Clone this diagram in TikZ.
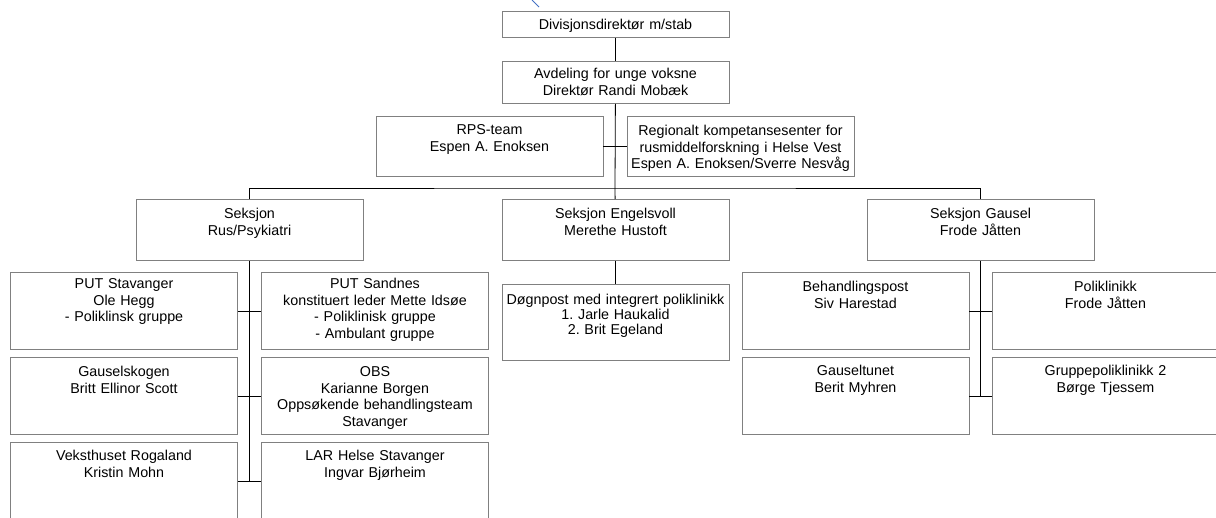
\documentclass[tikz,border=0pt]{standalone}
\usepackage{fontspec}
\setmainfont{Liberation Sans}
\frenchspacing
\definecolor{boxline}{RGB}{128,128,128}
\definecolor{markblue}{RGB}{68,114,196}
\begin{document}
\begin{tikzpicture}[x=1pt,y=-1pt,
  unit/.style 2 args={draw=boxline,line width=0.9pt,rectangle,anchor=north,inner sep=0pt,
    align=center,text width=227pt,text height=#1,text depth=#2,
    font=\fontsize{14.3}{16.7}\selectfont},
  link/.style={draw=black,line width=0.8pt}]
\clip (0,0) rectangle (1216,517);
\draw[markblue,line width=1pt] (532,0) -- (539,7);
% top of the chart
\node[unit={18pt}{8pt}] (div) at (615.5,11) {Divisjonsdirektør m/stab};
\node[unit={17pt}{25pt}] (avd) at (615.5,61) {Avdeling for unge voksne\\Direktør Randi Mobæk};
\node[unit={18pt}{42pt}] (rps) at (489.5,116) {RPS-team\\Espen A. Enoksen};
\node[unit={19pt}{41pt}] (reg) at (740.5,116) {Regionalt kompetansesenter for\\rusmiddelforskning i Helse Vest\\Espen A. Enoksen/Sverre Nesvåg};
% sections
\node[unit={19pt}{42pt}] (rus) at (249.5,199) {Seksjon\\Rus/Psykiatri};
\node[unit={19pt}{42pt}] (engel) at (615.5,199) {Seksjon Engelsvoll\\Merethe Hustoft};
\node[unit={19pt}{42pt}] (gausel) at (980.5,199) {Seksjon Gausel\\Frode Jåtten};
% Rus/Psykiatri
\node[unit={16pt}{61pt}] (putstav) at (124,272) {PUT Stavanger\\Ole Hegg\\- Poliklinsk gruppe};
\node[unit={16pt}{61pt}] (putsand) at (375,272) {PUT Sandnes\\konstituert leder Mette Idsøe\\- Poliklinisk gruppe\\- Ambulant gruppe};
\node[unit={19pt}{58pt}] (skogen) at (124,357) {Gauselskogen\\Britt Ellinor Scott};
\node[unit={19pt}{58pt}] (obs) at (375,357) {OBS\\Karianne Borgen\\Oppsøkende behandlingsteam\\Stavanger};
\node[unit={18pt}{60pt}] (vekst) at (124,442) {Veksthuset Rogaland\\Kristin Mohn};
\node[unit={18pt}{60pt}] (lar) at (375,442) {LAR Helse Stavanger\\Ingvar Bjørheim};
% Engelsvoll
\node[unit={20pt}{56pt},font=\fontsize{14.3}{15}\selectfont] (dogn) at (615.5,284) {Døgnpost med integrert poliklinikk\\1. Jarle Haukalid\\2. Brit Egeland};
% Gausel
\node[unit={19pt}{58pt}] (behpost) at (855.5,272) {Behandlingspost\\Siv Harestad};
\node[unit={19pt}{58pt}] (polikl) at (1105.5,272) {Poliklinikk\\Frode Jåtten};
\node[unit={18pt}{59pt}] (tunet) at (855.5,357) {Gauseltunet\\Berit Myhren};
\node[unit={18pt}{59pt}] (gruppe) at (1105.5,357) {Gruppepoliklinikk 2\\Børge Tjessem};
\coordinate (bar) at (615,188);
\draw[link] (div) -- (avd);
\draw[link] (avd) -- (bar);
\draw[link] (rps) -- (reg);
\draw[link] (rus) |- (bar) -| (gausel);
\draw[link] (bar) -- (engel);
\draw[link] (engel) -- (dogn);
\draw[link] (rus) -- (rus |- vekst.east);
\draw[link] (putstav) -- (putsand);
\draw[link] (skogen) -- (obs);
\draw[link] (vekst) -- (lar);
\draw[link] (gausel) -- (gausel |- tunet.east);
\draw[link] (behpost) -- (polikl);
\draw[link] (tunet) -- (gruppe);
\end{tikzpicture}
\end{document}
